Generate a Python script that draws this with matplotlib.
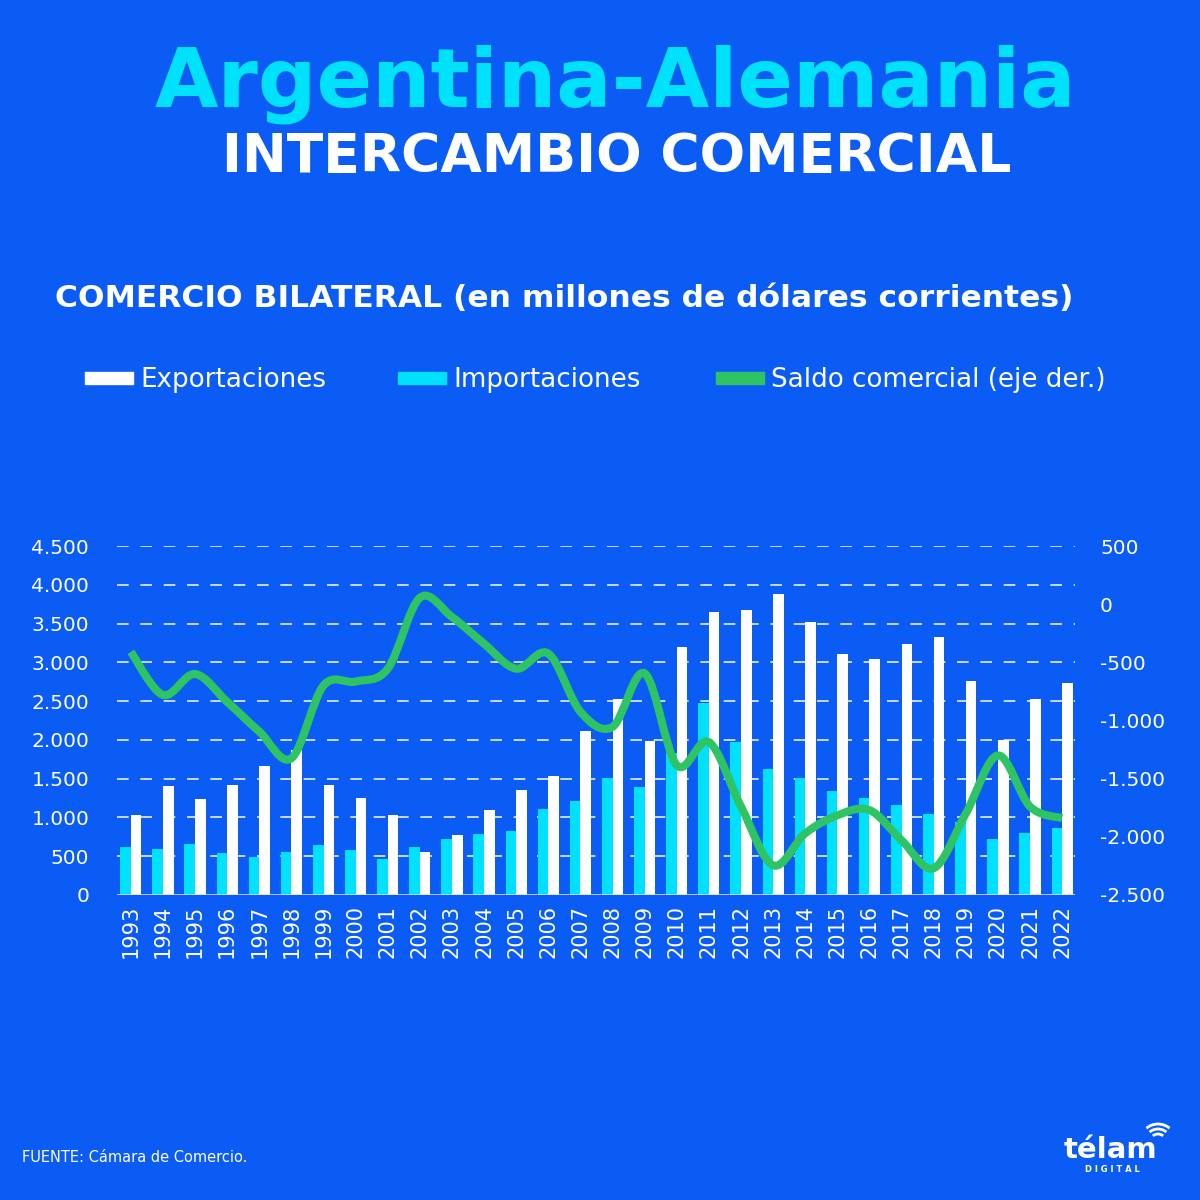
import matplotlib
matplotlib.use("Agg")
import matplotlib.pyplot as plt
import numpy as np
from matplotlib.path import Path
from matplotlib.patches import PathPatch, Rectangle, Arc
from matplotlib.ticker import FuncFormatter

# data (millones de USD)
years = list(range(1993, 2023))
exportaciones = [1030, 1400, 1235, 1420, 1665, 1870, 1420, 1255, 1030, 560,
                 780, 1090, 1355, 1540, 2120, 2530, 1990, 3200, 3645, 3675,
                 3880, 3525, 3105, 3045, 3230, 3330, 2765, 2000, 2530, 2730]
importaciones = [615, 595, 655, 540, 485, 560, 645, 580, 460, 625,
                 720, 785, 825, 1110, 1210, 1515, 1395, 1830, 2475, 1970,
                 1620, 1515, 1345, 1255, 1160, 1045, 945, 720, 805, 870]
saldo = [-410, -780, -600, -840, -1095, -1325, -700, -665, -555, 55,
         -110, -340, -555, -425, -925, -1055, -595, -1385, -1185, -1740,
         -2245, -1970, -1815, -1770, -2030, -2270, -1800, -1300, -1740, -1840]

left_ticks = [0, 500, 1000, 1500, 2000, 2500, 3000, 3500, 4000, 4500]
right_ticks = [-2500, -2000, -1500, -1000, -500, 0, 500]

BG = "#0b5cf5"
CYAN = "#00e1fb"
GREEN = "#2fc463"

plt.rcParams['font.family'] = ['DejaVu Sans']


def fmt(v, pos=None):
    s = f"{abs(int(v)):,}".replace(",", ".")
    return "-" + s if v < 0 else s


fig = plt.figure(figsize=(12, 12), dpi=100, facecolor=BG)
ax = fig.add_axes([117 / 1200, 305 / 1200, 958 / 1200, 349 / 1200])
ax.set_facecolor(BG)

x = np.arange(len(years))
w = 0.33
ax.bar(x - w / 2, importaciones, w, color=CYAN, zorder=2)
ax.bar(x + w / 2, exportaciones, w, color="white", zorder=2)

for v in left_ticks[1:]:
    ax.axhline(v, color="white", lw=1.2, ls=(0, (7, 7)), zorder=1, alpha=0.9)
ax.axhline(0, color="#d6d6ff", lw=1.2, zorder=3)

ax.set_xlim(-0.43, 29.4)
ax.set_ylim(0, 4500)
ax.set_yticks(left_ticks)
ax.yaxis.set_major_formatter(FuncFormatter(fmt))
ax.set_xticks(x)
ax.set_xticklabels([str(y) for y in years], rotation=90)
ax.tick_params(length=0, colors="white")
ax.tick_params(axis="y", pad=20, labelsize=14.5)
ax.tick_params(axis="x", pad=7, labelsize=15)
for s in ax.spines.values():
    s.set_visible(False)

ax2 = ax.twinx()
ax2.set_ylim(-2500, 500)
ax2.set_yticks(right_ticks)
ax2.yaxis.set_major_formatter(FuncFormatter(fmt))
ax2.tick_params(length=0, colors="white", labelsize=14.5, pad=18)
for s in ax2.spines.values():
    s.set_visible(False)

# smooth saldo line (Catmull-Rom as cubic bezier)
pts = np.column_stack([x, saldo]).astype(float)
verts = [pts[0]]
codes = [Path.MOVETO]
for i in range(len(pts) - 1):
    p0 = pts[i - 1] if i > 0 else pts[i]
    p1 = pts[i]
    p2 = pts[i + 1]
    p3 = pts[i + 2] if i + 2 < len(pts) else pts[i + 1]
    c1 = p1 + (p2 - p0) / 6
    c2 = p2 - (p3 - p1) / 6
    verts += [c1, c2, p2]
    codes += [Path.CURVE4] * 3
ax2.add_patch(PathPatch(Path(verts, codes), fill=False, edgecolor=GREEN,
                        lw=5.8, capstyle="butt", joinstyle="round", zorder=5))

# titles
fig.text(0.513, 1 - 106 / 1200, "Argentina-Alemania", color=CYAN, fontsize=59,
         fontweight="bold", ha="center", va="baseline")
fig.text(0.514, 1 - 172 / 1200, "INTERCAMBIO COMERCIAL", color="white", fontsize=38.6,
         fontweight="bold", ha="center", va="baseline")
fig.text(55 / 1200, 1 - 307 / 1200, "COMERCIO BILATERAL (en millones de dólares corrientes)",
         color="white", fontsize=22.6, fontweight="bold", ha="left", va="baseline")

# legend
items = [("Exportaciones", "white", 85), ("Importaciones", CYAN, 398),
         ("Saldo comercial (eje der.)", GREEN, 716)]
for label, col, x0 in items:
    fig.patches.append(Rectangle((x0 / 1200, 1 - 384 / 1200), 48 / 1200, 12 / 1200,
                                 transform=fig.transFigure, color=col))
    fig.text((x0 + 55) / 1200, 1 - 387 / 1200, label, color="white",
             fontsize=18.8, ha="left", va="baseline")

# footer
fig.text(22 / 1200, 1 - 1157 / 1200, "FUENTE: Cámara de Comercio.", color="white",
         fontsize=10.5, ha="left", va="center")
fig.text(1110 / 1200, 1 - 1150 / 1200, "télam", color="white", fontsize=21,
         fontweight="bold", ha="center", va="center")
fig.text(1112 / 1200, 1 - 1170 / 1200, "D I G I T A L", color="white", fontsize=6,
         fontweight="bold", ha="center", va="center")
for r in (8, 13, 18):
    fig.patches.append(Arc((1158 / 1200, 1 - 1142 / 1200), 2 * r / 1200, 2 * r / 1200,
                           theta1=50, theta2=130, transform=fig.transFigure,
                           color="white", lw=2))

fig.savefig("out.png", dpi=100, facecolor=BG)
